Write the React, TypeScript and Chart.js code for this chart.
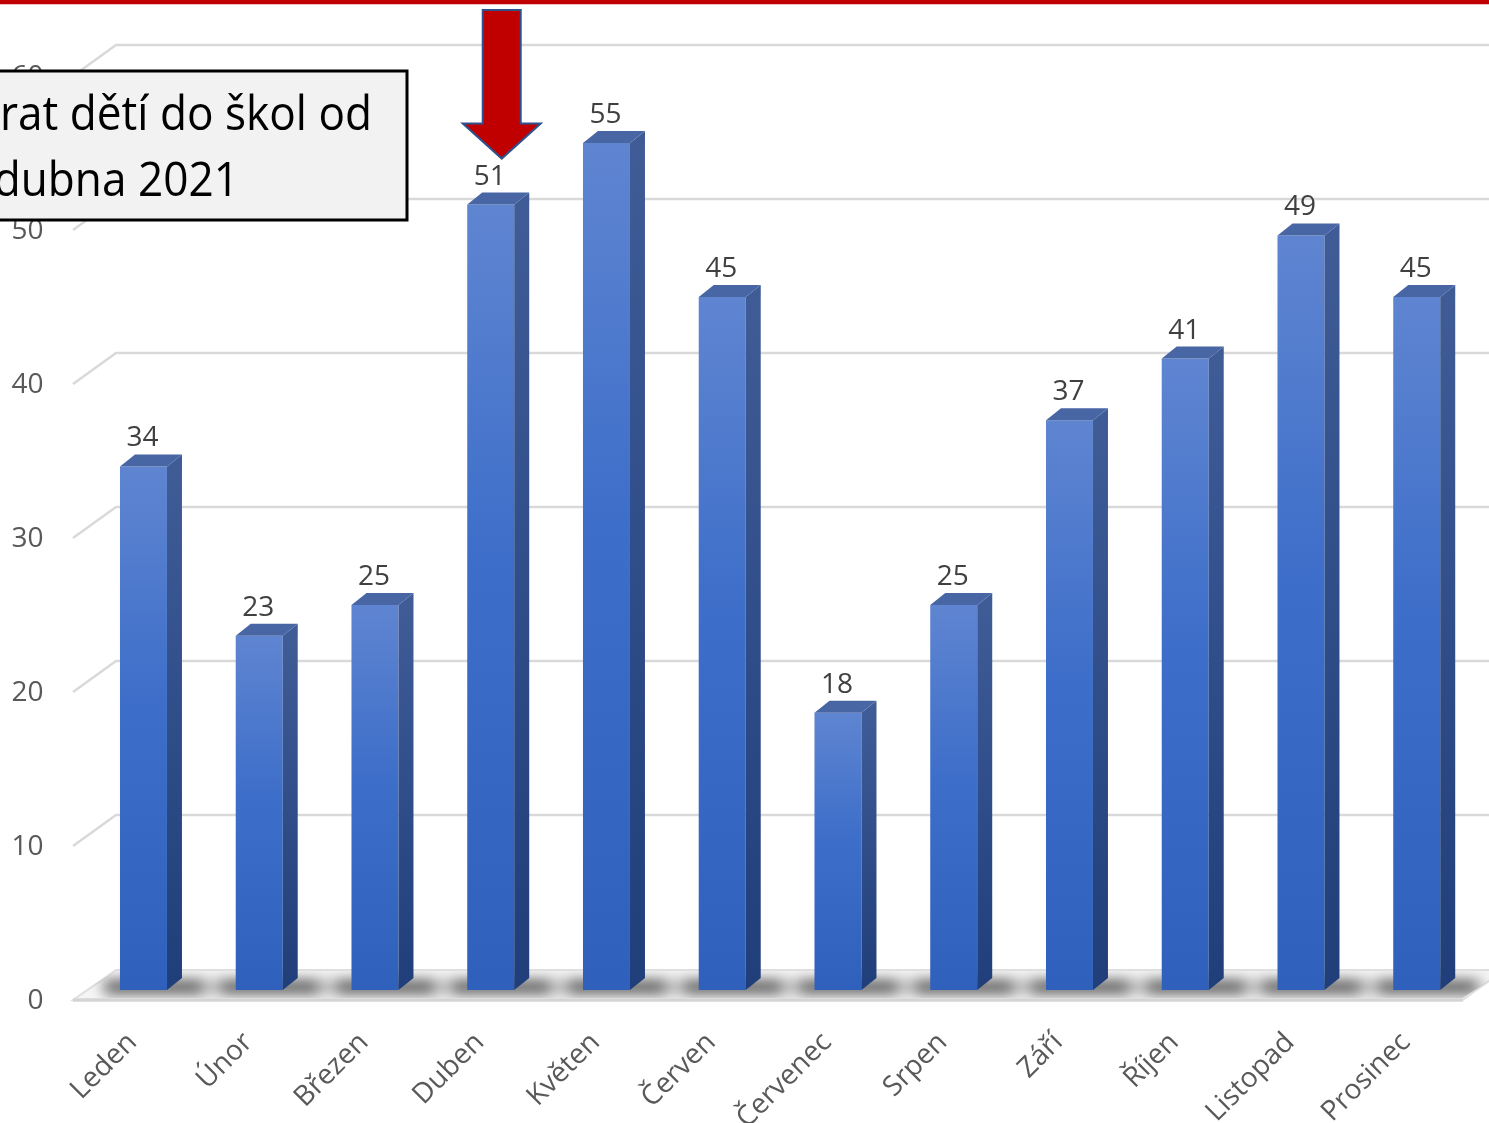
import React, { useEffect, useRef } from "react";
import { Chart, registerables } from "chart.js";

Chart.register(...registerables);

// Monthly counts
const months = [
  "Leden", "Únor", "Březen", "Duben", "Květen", "Červen",
  "Červenec", "Srpen", "Září", "Říjen", "Listopad", "Prosinec",
];
const counts = [34, 23, 25, 51, 55, 45, 18, 25, 37, 41, 49, 45];
const yMax = 60;
const yStep = 10;
const markedMonth = "Duben";
const noteLines = ["Návrat dětí do škol od", "12. dubna 2021"];

const W = 1489;
const H = 1123;
const FONT = "'Open Sans', 'Noto Sans', sans-serif";

// pseudo-3D geometry
const DX = 15; // bar depth, horizontal
const DY = -12; // bar depth, vertical
const FRONT_X = 73;
const FRONT_DY = 10;
const BACK_X = 116;
const BACK_DY = -21;

const depthPlugin = {
  id: "depth3d",
  beforeDatasetsDraw(chart: any) {
    const { ctx, chartArea, scales } = chart;
    const y = scales.y;
    const base = y.getPixelForValue(0);
    ctx.save();
    // walls grid lines
    ctx.strokeStyle = "#d9d9d9";
    ctx.lineWidth = 2.5;
    for (let v = yStep; v <= yMax; v += yStep) {
      const py = y.getPixelForValue(v);
      ctx.beginPath();
      ctx.moveTo(FRONT_X, py + FRONT_DY);
      ctx.lineTo(BACK_X, py + BACK_DY);
      ctx.lineTo(W, py + BACK_DY);
      ctx.stroke();
    }
    // floor
    const fr = chartArea.right - 12;
    const br = chartArea.right + 30;
    ctx.beginPath();
    ctx.moveTo(FRONT_X, base + FRONT_DY);
    ctx.lineTo(BACK_X, base + BACK_DY + 1);
    ctx.lineTo(br, base + BACK_DY + 1);
    ctx.lineTo(fr, base + FRONT_DY);
    ctx.closePath();
    ctx.fillStyle = "#f5f5f5";
    ctx.fill();
    ctx.strokeStyle = "#dedede";
    ctx.lineWidth = 2;
    ctx.stroke();
    ctx.beginPath();
    ctx.moveTo(FRONT_X, base + FRONT_DY);
    ctx.lineTo(fr, base + FRONT_DY);
    ctx.strokeStyle = "#d4d4d4";
    ctx.lineWidth = 3.5;
    ctx.stroke();

    // shadows on the floor
    const meta = chart.getDatasetMeta(0);
    ctx.save();
    ctx.beginPath();
    ctx.moveTo(FRONT_X, base + FRONT_DY - 2);
    ctx.lineTo(BACK_X, base + BACK_DY + 2);
    ctx.lineTo(br, base + BACK_DY + 2);
    ctx.lineTo(fr, base + FRONT_DY - 2);
    ctx.closePath();
    ctx.clip();
    ctx.filter = "blur(7px)";
    ctx.fillStyle = "rgba(0,0,0,0.28)";
    ctx.fillRect(FRONT_X + 30, base - 9, fr - FRONT_X - 10, 12);
    ctx.fillStyle = "rgba(0,0,0,0.6)";
    meta.data.forEach((bar: any) => {
      const l = bar.x - bar.width / 2;
      ctx.fillRect(l - 14, base - 8, bar.width + DX + 34, 10);
    });
    ctx.restore();
    ctx.restore();
  },
  afterDatasetsDraw(chart: any) {
    const { ctx } = chart;
    const meta = chart.getDatasetMeta(0);
    ctx.save();
    meta.data.forEach((bar: any, i: number) => {
      const l = bar.x - bar.width / 2;
      const r = bar.x + bar.width / 2;
      const top = bar.y;
      const base = bar.base;
      // side face
      const g = ctx.createLinearGradient(0, top, 0, base);
      g.addColorStop(0, "#3f5c97");
      g.addColorStop(1, "#1f3e7a");
      ctx.fillStyle = g;
      ctx.beginPath();
      ctx.moveTo(r, top);
      ctx.lineTo(r + DX, top + DY);
      ctx.lineTo(r + DX, base + DY);
      ctx.lineTo(r, base);
      ctx.closePath();
      ctx.fill();
      // top face
      ctx.fillStyle = "#4865a4";
      ctx.beginPath();
      ctx.moveTo(l, top);
      ctx.lineTo(l + DX, top + DY);
      ctx.lineTo(r + DX, top + DY);
      ctx.lineTo(r, top);
      ctx.closePath();
      ctx.fill();
      // value label
      ctx.fillStyle = "#404040";
      ctx.font = `28px ${FONT}`;
      ctx.textAlign = "center";
      ctx.textBaseline = "middle";
      ctx.fillText(String(counts[i]), bar.x - 1, top - 28);
    });
    ctx.restore();
  },
  afterDraw(chart: any) {
    const { ctx } = chart;
    ctx.save();
    // arrow pointing at the marked month
    const idx = months.indexOf(markedMonth);
    const bar = chart.getDatasetMeta(0).data[idx];
    if (bar) {
      const cx = bar.x + 11;
      const tip = bar.y - 46;
      const neck = tip - 35;
      ctx.beginPath();
      ctx.moveTo(cx - 19, 10);
      ctx.lineTo(cx + 19, 10);
      ctx.lineTo(cx + 19, neck);
      ctx.lineTo(cx + 39, neck);
      ctx.lineTo(cx, tip);
      ctx.lineTo(cx - 39, neck);
      ctx.lineTo(cx - 19, neck);
      ctx.closePath();
      ctx.fillStyle = "#c00000";
      ctx.fill();
      ctx.strokeStyle = "#2f528f";
      ctx.lineWidth = 2;
      ctx.stroke();
    }
    // red band across the top
    ctx.fillStyle = "#c00000";
    ctx.fillRect(0, 0, W, 4);
    ctx.fillStyle = "rgba(192,0,0,0.25)";
    ctx.fillRect(0, 4, W, 1);

    // note box
    ctx.fillStyle = "#f2f2f2";
    ctx.fillRect(-10, 71, 417, 149);
    ctx.strokeStyle = "#000000";
    ctx.lineWidth = 3;
    ctx.strokeRect(-10, 71, 417, 149);

    ctx.font = `47px ${FONT}`;
    ctx.fillStyle = "#000000";
    ctx.textAlign = "left";
    ctx.textBaseline = "alphabetic";
    const first = noteLines[0];
    const hidden = first.slice(0, 3);
    const shown = first.slice(3);
    const sx = 372 / ctx.measureText(shown).width;
    const x0 = 0 - ctx.measureText(hidden).width * sx;
    ctx.save();
    ctx.translate(x0, 0);
    ctx.scale(sx, 1);
    ctx.fillText(noteLines[0], 0, 130);
    ctx.fillText(noteLines[1], 0, 196);
    ctx.restore();
    ctx.restore();
  },
};

export default function App() {
  const ref = useRef<HTMLCanvasElement | null>(null);

  useEffect(() => {
    if (!ref.current) return;
    const chart = new Chart(ref.current, {
      type: "bar",
      data: {
        labels: months,
        datasets: [
          {
            data: counts,
            backgroundColor: (c: any) => {
              const ch = c.chart;
              const sy = ch.scales && ch.scales.y;
              if (!sy || c.parsed == null) return "#4472c4";
              const top = sy.getPixelForValue(c.parsed.y);
              const base = sy.getPixelForValue(0);
              if (!isFinite(top) || !isFinite(base) || base - top < 1) return "#4472c4";
              const g = ch.ctx.createLinearGradient(0, top, 0, base);
              g.addColorStop(0, "#5f85d1");
              g.addColorStop(0.45, "#3d6ec9");
              g.addColorStop(1, "#2f61bc");
              return g;
            },
            borderWidth: 0,
            barPercentage: 0.406,
            categoryPercentage: 1,
          },
        ],
      },
      options: {
        responsive: false,
        animation: false,
        layout: { padding: { top: 66, right: 14.4, left: 0, bottom: 0 } },
        plugins: { legend: { display: false }, tooltip: { enabled: false } },
        scales: {
          x: {
            grid: { display: false, drawTicks: false },
            border: { display: false },
            ticks: {
              autoSkip: false,
              minRotation: 45,
              maxRotation: 45,
              padding: 36,
              labelOffset: -11,
              color: "#595959",
              font: { family: FONT, size: 28 },
            },
            afterFit: (s: any) => {
              s.height = H - 990;
            },
          },
          y: {
            min: 0,
            max: yMax,
            grid: { display: false, drawTicks: false },
            border: { display: false },
            ticks: {
              stepSize: yStep,
              padding: 42,
              labelOffset: 11,
              color: "#595959",
              font: { family: FONT, size: 28 },
            },
            afterFit: (s: any) => {
              s.width = 85.6;
            },
          },
        },
      },
      plugins: [depthPlugin],
    });
    return () => chart.destroy();
  }, []);

  return (
    <div style={{ position: "fixed", left: 0, top: 0, width: W, height: H, background: "#fff" }}>
      <canvas ref={ref} width={W} height={H} style={{ display: "block" }} />
    </div>
  );
}
